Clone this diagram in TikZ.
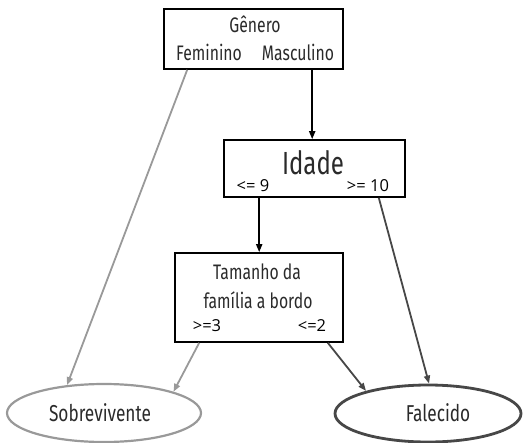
\documentclass[tikz,border=0pt]{standalone}
\usepackage{fontspec}
\setmainfont{Fira Sans}
\newfontfamily\condf[FakeStretch=0.75]{Fira Sans}
\newfontfamily\wideF{Open Sans}
\usetikzlibrary{arrows.meta,shapes.geometric}
\definecolor{txt}{HTML}{2a2a2a}
\definecolor{lightline}{HTML}{999999}
\definecolor{darkline}{HTML}{474747}
\tikzset{
  box/.style={draw=black,line width=1.6pt,rectangle,inner sep=0pt},
  lbl/.style={inner sep=0pt,text=txt,font=\condf\fontsize{21}{23}\selectfont},
  leaf/.style={inner sep=0pt,text=txt,font=\condf\fontsize{23}{25}\selectfont},
  big/.style={inner sep=0pt,text=txt,font=\condf\fontsize{32}{34}\selectfont},
  cond/.style={inner sep=0pt,text=black,font=\wideF\fontsize{16.5}{18}\selectfont},
  arr/.style={-{Triangle[length=8pt,width=6pt]},line width=1.8pt},
  grayarr/.style={arr,draw=lightline,-{Triangle[length=8pt,width=6pt,fill=lightline]}},
  darkarr/.style={arr,draw=darkline},
  blackarr/.style={arr,draw=black}
}
\begin{document}
\begin{tikzpicture}[x=1pt,y=-1pt]
\useasboundingbox (0,0) rectangle (526,443);
% boxes
\node[box,minimum width=179pt,minimum height=60pt] (gen) at (253.5,39) {};
\node[lbl] (gent) at (255,24) {Gênero};
\node[lbl] (fem) at (209,52) {Feminino};
\node[lbl] (mas) at (298,52) {Masculino};

\node[box,minimum width=181pt,minimum height=57pt] (ida) at (314.5,168.5) {};
\node[big] (idat) at (313,163) {Idade};
\node[cond] (le9) at (253,186) {<= 9};
\node[cond] (ge10) at (368,186) {>= 10};

\node[box,minimum width=168pt,minimum height=89pt] (tam) at (259,297.5) {};
\node[lbl] (tam1) at (257,272) {Tamanho da};
\node[lbl] (tam2) at (258,300) {família a bordo};
\node[cond] (ge3) at (207,326) {>=3};
\node[cond] (le2) at (312,326) {<=2};

% leaves
\node[draw=lightline,line width=2.2pt,ellipse,minimum width=194pt,minimum height=58pt,inner sep=0pt] (sob) at (104,413) {};
\node[leaf] (sobt) at (100,413) {Sobrevivente};
\node[draw=darkline,line width=2.8pt,ellipse,minimum width=186pt,minimum height=57pt,inner sep=0pt] (fal) at (428,413.5) {};
\node[leaf] (falt) at (438,413) {Falecido};

% connectors
\draw[blackarr] ([xshift=149pt]gen.south west) -- ([xshift=89pt]ida.north west);
\draw[blackarr] ([xshift=36pt]ida.south west) -- ([xshift=85pt]tam.north west);
\draw[grayarr] ([xshift=24pt]gen.south west) -- (sob.143);
\draw[grayarr] ([xshift=25pt]tam.south west) -- (sob.17);
\draw[darkarr] ([xshift=-16pt]tam.south east) -- (fal.160);
\draw[darkarr] ([xshift=-27pt]ida.south east) -- (fal.88);
\end{tikzpicture}
\end{document}
